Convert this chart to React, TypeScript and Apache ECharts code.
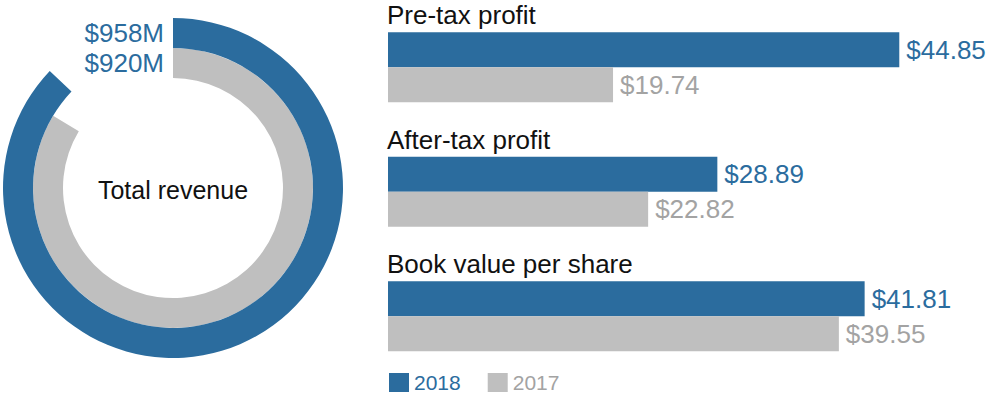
import React, { useEffect, useRef } from "react";
import * as echarts from "echarts";

const BLUE = "#2b6c9e";
const GRAY = "#bfbfbf";
const GRAY_TEXT = "#a3a3a3";
const FONT = "Liberation Sans, Arial, sans-serif";

const metrics = ["Pre-tax profit", "After-tax profit", "Book value per share"];
const values2018 = [44.85, 28.89, 41.81];
const values2017 = [19.74, 22.82, 39.55];
const years = ["2018", "2017"];
const revenueRings = ["2017", "2018"];
const revenue2018 = 958;
const revenue2017 = 920;
const revenueScaleMax = 1100;
const donutTitle = "Total revenue";

export default function App() {
  const ref = useRef<HTMLDivElement>(null);
  useEffect(() => {
    if (!ref.current) return;
    const chart = echarts.init(ref.current, null, { renderer: "svg" });
    chart.setOption({
      animation: false,
      textStyle: { fontFamily: FONT },
      polar: { center: [173, 188], radius: [110, 170] },
      angleAxis: {
        type: "value",
        max: revenueScaleMax,
        startAngle: 90,
        clockwise: true,
        show: false,
      },
      radiusAxis: {
        type: "category",
        data: revenueRings,
        show: false,
      },
      grid: { left: 388, width: 570, top: 5, height: 373.5 },
      xAxis: { type: "value", min: 0, max: 50, show: false },
      yAxis: {
        type: "category",
        data: metrics,
        inverse: true,
        axisLine: { show: false },
        axisTick: { show: false },
        splitLine: { show: false },
        axisLabel: {
          inside: true,
          interval: 0,
          margin: -1,
          fontSize: 26,
          color: "#111",
          verticalAlign: "bottom",
          padding: [0, 0, 39, 0],
          fontFamily: FONT,
        },
      },
      legend: {
        left: 384,
        top: 367,
        itemWidth: 20,
        itemHeight: 19,
        itemGap: 27,
        icon: "rect",
        data: [
          { name: years[0], textStyle: { color: BLUE } },
          { name: years[1], textStyle: { color: GRAY_TEXT } },
        ],
        textStyle: { fontSize: 21, fontFamily: FONT },
        selectedMode: false,
      },
      graphic: [
        {
          type: "text",
          x: 173,
          y: 190,
          style: {
            text: donutTitle,
            fontSize: 25,
            fontFamily: FONT,
            fill: "#111",
            align: "center",
            verticalAlign: "middle",
          },
        },
      ],
      series: [
        {
          name: years[1],
          type: "bar",
          coordinateSystem: "polar",
          stack: "rev",
          barCategoryGap: "0%",
          itemStyle: { color: GRAY },
          data: [revenue2017, "-"],
          label: {
            show: true,
            position: "start",
            distance: 9,
            fontSize: 26,
            color: BLUE,
            fontFamily: FONT,
            formatter: (p: any) => "$" + p.value + "M",
          },
        },
        {
          name: years[0],
          type: "bar",
          coordinateSystem: "polar",
          stack: "rev",
          barCategoryGap: "0%",
          itemStyle: { color: BLUE },
          data: ["-", revenue2018],
          label: {
            show: true,
            position: "start",
            distance: 9,
            fontSize: 26,
            color: BLUE,
            fontFamily: FONT,
            formatter: (p: any) => "$" + p.value + "M",
          },
        },
        {
          name: years[0],
          type: "bar",
          barWidth: 35,
          barGap: "0%",
          itemStyle: { color: BLUE },
          data: values2018,
          label: {
            show: true,
            position: "right",
            distance: 7,
            fontSize: 26,
            color: BLUE,
            fontFamily: FONT,
            formatter: (p: any) => "$" + p.value.toFixed(2),
          },
        },
        {
          name: years[1],
          type: "bar",
          barWidth: 35,
          barGap: "0%",
          itemStyle: { color: GRAY },
          data: values2017,
          label: {
            show: true,
            position: "right",
            distance: 7,
            fontSize: 26,
            color: GRAY_TEXT,
            fontFamily: FONT,
            formatter: (p: any) => "$" + p.value.toFixed(2),
          },
        },
      ],
    });
    return () => chart.dispose();
  }, []);
  return (
    <div
      ref={ref}
      style={{ position: "absolute", left: 0, top: 0, width: 994, height: 394 }}
    />
  );
}
